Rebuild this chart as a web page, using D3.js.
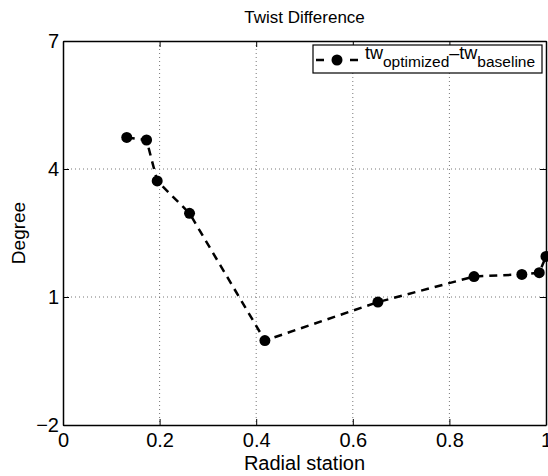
<!DOCTYPE html>
<html>
<head>
<meta charset="utf-8">
<script src="https://cdn.jsdelivr.net/npm/d3@7"></script>
<style>
  body { margin: 0; background: #fff; }
  text { font-family: "Liberation Sans", Arial, Helvetica, sans-serif; fill: #000; }
</style>
</head>
<body>
<svg class="chart" width="548" height="476"></svg>
<script>
// data
const radial = [0.132, 0.173, 0.195, 0.262, 0.418, 0.652, 0.851, 0.950, 0.986, 1.0];
const twistDiff = [4.74, 4.68, 3.72, 2.96, -0.02, 0.88, 1.48, 1.53, 1.57, 1.95];
const xTicks = [0, 0.2, 0.4, 0.6, 0.8, 1];
const yTicks = [-2, 1, 4, 7];

const margin = { top: 41, right: 2, bottom: 51, left: 63 };
const width = 548 - margin.left - margin.right;
const height = 476 - margin.top - margin.bottom;

const svg = d3.select(".chart");
const g = svg.append("g").attr("transform", `translate(${margin.left},${margin.top})`);

const x = d3.scaleLinear().domain([0, 1]).range([0, width]);
const y = d3.scaleLinear().domain([-2, 7]).range([height, 0]);

// dotted grid
g.append("g")
  .selectAll("line")
  .data(xTicks.slice(1, -1))
  .join("line")
  .attr("x1", (d) => x(d))
  .attr("x2", (d) => x(d))
  .attr("y1", 0)
  .attr("y2", height)
  .attr("stroke", "#777")
  .attr("stroke-width", 1)
  .attr("stroke-dasharray", "1,3");

g.append("g")
  .selectAll("line")
  .data(yTicks.slice(1, -1))
  .join("line")
  .attr("x1", 0)
  .attr("x2", width)
  .attr("y1", (d) => y(d))
  .attr("y2", (d) => y(d))
  .attr("stroke", "#777")
  .attr("stroke-width", 1)
  .attr("stroke-dasharray", "1,3");

// axes with inward ticks
const xAxis = g.append("g")
  .attr("transform", `translate(0,${height})`)
  .call(d3.axisBottom(x).tickValues(xTicks).tickFormat(d3.format("")).tickSizeInner(-6).tickSizeOuter(0).tickPadding(10));
const xTop = g.append("g")
  .call(d3.axisTop(x).tickValues(xTicks).tickFormat("").tickSizeInner(-6).tickSizeOuter(0));
const yAxis = g.append("g")
  .call(d3.axisLeft(y).tickValues(yTicks).tickFormat((d) => (d < 0 ? "\u2212" + Math.abs(d) : d)).tickSizeInner(-6).tickSizeOuter(0).tickPadding(4));
const yRight = g.append("g")
  .attr("transform", `translate(${width},0)`)
  .call(d3.axisRight(y).tickValues(yTicks).tickFormat("").tickSizeInner(-6).tickSizeOuter(0));

[xAxis, xTop, yAxis, yRight].forEach((a) => {
  a.select(".domain").attr("stroke", "#000").attr("stroke-width", 1.5);
  a.selectAll(".tick line").attr("stroke", "#000");
  a.selectAll("text").attr("font-size", 20).attr("font-family", "Liberation Sans, Arial, sans-serif").attr("fill", "#000");
});
xAxis.selectAll("text").attr("dy", "0.6em");
yAxis.selectAll("text").attr("dy", "0.3em");

// the series
const line = d3.line().x((d, i) => x(radial[i])).y((d) => y(d));
g.append("path")
  .datum(twistDiff)
  .attr("d", line)
  .attr("fill", "none")
  .attr("stroke", "#000")
  .attr("stroke-width", 2.5)
  .attr("stroke-dasharray", "8,6");

g.selectAll(".pt")
  .data(twistDiff)
  .join("circle")
  .attr("class", "pt")
  .attr("cx", (d, i) => x(radial[i]))
  .attr("cy", (d) => y(d))
  .attr("r", 5.5)
  .attr("fill", "#000");

// legend
const lg = g.append("g").attr("transform", `translate(${313 - margin.left},${45 - margin.top})`);
lg.append("rect")
  .attr("width", 229)
  .attr("height", 28)
  .attr("fill", "#fff")
  .attr("stroke", "#000")
  .attr("stroke-width", 1.2);
lg.append("line")
  .attr("x1", 3).attr("x2", 45).attr("y1", 15).attr("y2", 15)
  .attr("stroke", "#000").attr("stroke-width", 2.5).attr("stroke-dasharray", "8,26");
lg.append("circle").attr("cx", 24).attr("cy", 15).attr("r", 5.5).attr("fill", "#000");
const lt = lg.append("text").attr("x", 52).attr("y", 14).attr("font-size", 18);
lt.append("tspan").text("tw");
lt.append("tspan").attr("dy", 8).attr("font-size", 15.5).text("optimized");
lt.append("tspan").attr("dy", -8).text("\u2013tw");
lt.append("tspan").attr("dy", 8).attr("font-size", 15.5).text("baseline");

// titles
svg.append("text")
  .attr("x", margin.left + width / 2)
  .attr("y", 23)
  .attr("text-anchor", "middle")
  .attr("font-size", 17)
  .text("Twist Difference");

svg.append("text")
  .attr("x", margin.left + width / 2)
  .attr("y", 470)
  .attr("text-anchor", "middle")
  .attr("font-size", 20)
  .text("Radial station");

svg.append("text")
  .attr("transform", `translate(25,${margin.top + height / 2}) rotate(-90)`)
  .attr("text-anchor", "middle")
  .attr("font-size", 19)
  .text("Degree");
</script>
</body>
</html>
